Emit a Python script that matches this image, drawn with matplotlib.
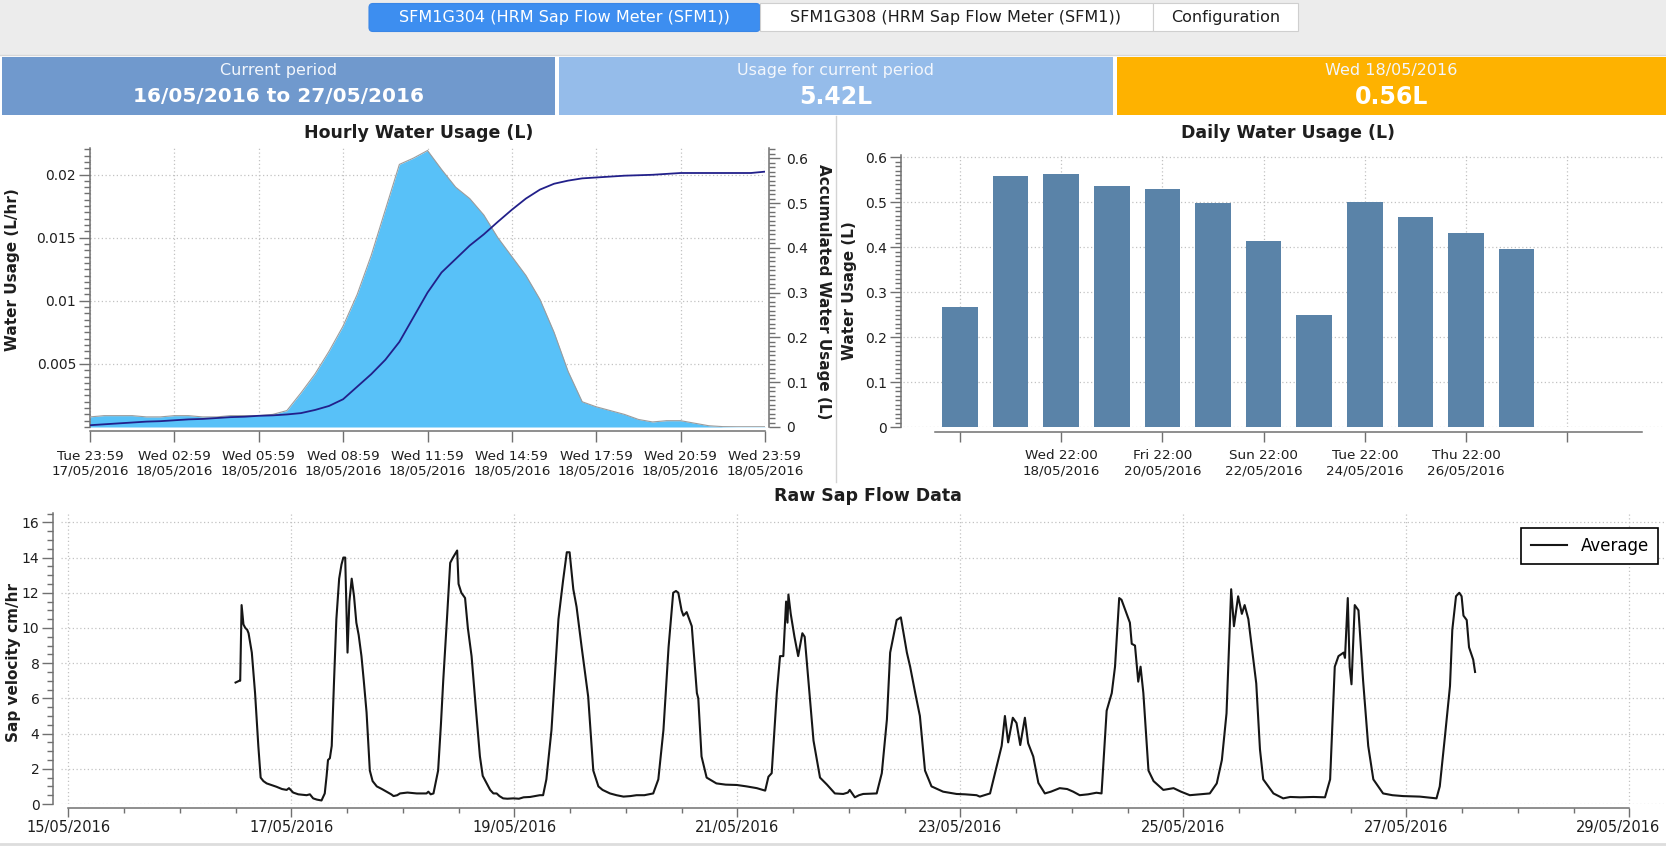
import matplotlib
matplotlib.use('Agg')
import matplotlib.pyplot as plt
import matplotlib.dates as mdates
import matplotlib.transforms as mtransforms
import pandas as pd
from datetime import datetime, timedelta
from matplotlib.patches import Rectangle, FancyBboxPatch
from matplotlib.ticker import MultipleLocator, FixedLocator, FormatStrFormatter

W, H = 1666, 847

# ---- data ----
tab_labels = ['SFM1G304 (HRM Sap Flow Meter (SFM1))',
              'SFM1G308 (HRM Sap Flow Meter (SFM1))',
              'Configuration']
header_titles = ['Current period', 'Usage for current period', 'Wed 18/05/2016']
header_values = ['16/05/2016 to 27/05/2016', '5.42L', '0.56L']

# hourly chart, one value every 30 min from Tue 17/05 23:59
hourly_start = '2016-05-17 23:59'
hourly_usage = [0.0008, 0.0009, 0.0009, 0.0009, 0.0008, 0.0008, 0.0009, 0.0009,
                0.0008, 0.0008, 0.0009, 0.0009, 0.0009, 0.0010, 0.0013, 0.0027,
                0.0042, 0.0060, 0.0080, 0.0105, 0.0136, 0.0172, 0.0208, 0.0213,
                0.0219, 0.0204, 0.0190, 0.0181, 0.0168, 0.0150, 0.0135, 0.0120,
                0.0101, 0.0075, 0.0044, 0.0020, 0.0016, 0.0013, 0.0010, 0.0006,
                0.0004, 0.0005, 0.0005, 0.0003, 0.0001, 0.00003, 0.00002, 0.00002,
                0.00002]
hourly_accum = [0.004, 0.006, 0.008, 0.010, 0.012, 0.013, 0.015, 0.017,
                0.018, 0.020, 0.022, 0.023, 0.025, 0.026, 0.028, 0.031,
                0.038, 0.047, 0.062, 0.090, 0.118, 0.150, 0.190, 0.245,
                0.300, 0.345, 0.375, 0.405, 0.430, 0.458, 0.485, 0.510,
                0.530, 0.543, 0.550, 0.555, 0.557, 0.559, 0.561, 0.562,
                0.563, 0.565, 0.567, 0.567, 0.567, 0.567, 0.567, 0.567,
                0.570]

# daily chart
daily_start = '2016-05-16 22:00'
daily_usage = [0.267, 0.559, 0.562, 0.536, 0.530, 0.499, 0.413, 0.250,
               0.501, 0.467, 0.431, 0.397]
daily_tick_labels = ['', 'Wed 22:00\n18/05/2016', 'Fri 22:00\n20/05/2016',
                     'Sun 22:00\n22/05/2016', 'Tue 22:00\n24/05/2016',
                     'Thu 22:00\n26/05/2016', '']

# raw sap flow, hours since 15/05/2016 00:00
sap_hours = [36.0, 36.8, 37.0, 37.3, 37.7, 38.1, 38.5, 38.8, 39.5, 40.2, 40.9, 41.4,
             42.0, 42.7, 43.5, 44.8, 46.0, 47.0, 47.5, 48.4, 49.5, 51.3, 52.0, 52.7,
             53.5, 54.5, 55.2, 55.6, 55.9, 56.3, 56.7, 57.2, 57.7, 58.3, 58.8, 59.2,
             59.6, 60.1, 60.5, 61.0, 61.5, 62.0, 62.5, 63.1, 63.6, 64.2, 64.9, 65.5,
             66.4, 67.5, 68.5, 69.5, 70.0, 70.8, 71.4, 73.0, 75.0, 77.1, 77.5, 78.0,
             78.6, 79.6, 80.2, 80.7, 81.5, 82.2, 82.8, 83.7, 84.0, 84.6, 85.4, 86.0,
             86.8, 87.7, 88.6, 89.2, 90.0, 90.8, 91.5, 92.2, 92.8, 93.6, 94.5, 95.8,
             97.0, 98.0, 99.4, 100.5, 101.5, 102.2, 102.9, 104.0, 105.5, 106.5, 107.3, 107.9,
             108.7, 109.4, 110.5, 111.9, 113.0, 114.1, 115.0, 116.6, 118.0, 119.5, 121.0, 122.3,
             124.0, 125.9, 127.0, 128.1, 129.2, 130.2, 130.8, 131.3, 132.0, 132.4, 133.1, 134.2,
             135.3, 135.6, 136.3, 137.4, 139.5, 141.5, 143.9, 146.0, 148.2, 150.0, 150.7, 151.4,
             152.5, 153.2, 153.9, 154.5, 154.8, 155.0, 155.5, 156.3, 157.1, 158.0, 158.5, 159.3,
             160.4, 161.8, 163.3, 165.0, 166.8, 167.8, 168.2, 169.3, 170.2, 171.1, 174.0, 175.1,
             176.2, 176.9, 178.3, 179.2, 180.5, 181.2, 182.3, 183.3, 184.4, 185.8, 188.3, 191.2,
             193.0, 195.5, 196.2, 198.4, 199.8, 200.9, 201.6, 202.3, 203.3, 204.1, 204.9, 205.9,
             206.6, 207.7, 208.8, 210.2, 211.5, 213.4, 215.0, 216.3, 217.7, 219.5, 221.3, 222.4,
             223.5, 224.6, 225.3, 226.2, 226.7, 227.8, 228.5, 228.9, 229.6, 230.3, 230.8, 231.4,
             232.5, 233.6, 235.7, 237.9, 239.5, 241.4, 243.5, 245.7, 247.2, 248.3, 249.3, 250.3,
             250.9, 251.8, 252.6, 253.2, 254.0, 255.7, 256.5, 257.2, 259.4, 261.5, 263.0, 265.1,
             268.0, 270.5, 271.6, 272.6, 273.4, 274.5, 274.8, 275.4, 275.8, 276.2, 276.9, 277.7,
             278.7, 279.8, 280.9, 283.0, 285.0, 287.3, 290.9, 294.5, 295.2, 296.3, 297.4, 297.9,
             298.7, 299.4, 299.9, 300.3, 301.0, 301.5, 302.4, 302.8]
sap_values = [6.9, 7.0, 7.0, 11.3, 10.2, 10.0, 9.9, 9.7, 8.6, 6.3, 3.3, 1.5,
              1.3, 1.17, 1.1, 0.98, 0.85, 0.8, 0.9, 0.65, 0.55, 0.5, 0.55, 0.32,
              0.25, 0.2, 0.6, 1.6, 2.5, 2.6, 3.3, 7.0, 10.5, 12.8, 13.6, 14.0,
              14.0, 8.6, 11.5, 12.8, 11.8, 10.3, 9.6, 8.4, 7.0, 5.2, 1.9, 1.3,
              1.0, 0.85, 0.7, 0.55, 0.45, 0.5, 0.6, 0.65, 0.6, 0.6, 0.7, 0.55,
              0.6, 1.9, 4.5, 7.0, 10.5, 13.7, 14.0, 14.4, 12.5, 12.0, 11.7, 10.0,
              8.4, 5.5, 2.7, 1.6, 1.2, 0.8, 0.6, 0.6, 0.45, 0.32, 0.3, 0.32,
              0.3, 0.38, 0.4, 0.45, 0.5, 0.5, 1.4, 4.2, 10.5, 12.7, 14.3, 14.3,
              12.2, 11.2, 8.9, 6.1, 1.9, 1.0, 0.8, 0.6, 0.5, 0.42, 0.45, 0.5,
              0.5, 0.6, 1.4, 4.2, 8.9, 12.0, 12.1, 12.0, 11.0, 10.7, 10.9, 10.1,
              6.3, 6.0, 2.7, 1.5, 1.17, 1.1, 1.08, 1.0, 0.9, 0.76, 1.55, 1.75,
              6.3, 8.4, 8.4, 11.5, 10.3, 11.9, 10.8, 9.5, 8.4, 9.7, 9.5, 7.0,
              3.6, 1.5, 1.1, 0.6, 0.57, 0.65, 0.8, 0.38, 0.5, 0.57, 0.6, 1.75,
              4.8, 8.6, 10.45, 10.6, 8.6, 7.8, 6.3, 5.0, 1.9, 1.0, 0.7, 0.57,
              0.55, 0.5, 0.42, 0.6, 2.1, 3.3, 5.0, 3.5, 4.9, 4.6, 3.35, 4.9,
              3.45, 2.7, 1.2, 0.6, 0.7, 0.9, 0.85, 0.7, 0.5, 0.55, 0.64, 0.6,
              5.3, 6.3, 7.8, 11.7, 11.6, 10.8, 10.3, 9.1, 9.0, 6.95, 7.8, 6.3,
              1.9, 1.3, 0.8, 0.9, 0.7, 0.5, 0.55, 0.6, 1.17, 2.5, 5.15, 12.2,
              10.1, 11.8, 10.8, 11.3, 10.5, 6.85, 3.1, 1.4, 0.6, 0.32, 0.4, 0.38,
              0.4, 0.38, 1.4, 7.8, 8.4, 8.6, 8.3, 11.7, 7.8, 6.8, 11.3, 11.0,
              7.0, 3.3, 1.4, 0.6, 0.5, 0.45, 0.42, 0.32, 1.0, 3.8, 6.7, 9.9,
              11.8, 12.0, 11.8, 10.7, 10.45, 8.9, 8.2, 7.5]


def rect(x0, y0, x1, y1):
    # pixel box (top-left origin) -> figure fraction
    return [x0 / W, 1 - y1 / H, (x1 - x0) / W, (y1 - y0) / H]


AX_COL = '#707070'
GRID = dict(color='#c2c2c2', linestyle=(0, (1, 2)), linewidth=0.9)
TXT = '#1e1e1e'

fig = plt.figure(figsize=(W / 100, H / 100), dpi=100)

# ---- background canvas in pixel coordinates ----
bg = fig.add_axes([0, 0, 1, 1])
bg.set_zorder(-1)
bg.set_xlim(0, W)
bg.set_ylim(H, 0)
bg.axis('off')

bg.add_patch(Rectangle((0, 0), W, 55, color='#ececec', lw=0))
bg.plot([0, W], [55, 55], color='#d8d8d8', lw=1)
bg.add_patch(FancyBboxPatch((369, 3.5), 391, 28, boxstyle='round,pad=0,rounding_size=4',
                            fc='#3d8ef0', ec='#3a86e6', lw=0.8))
bg.add_patch(Rectangle((760, 3.5), 393, 28, fc='white', ec='#cfcfcf', lw=0.8))
bg.add_patch(Rectangle((1153, 3.5), 145, 28, fc='white', ec='#cfcfcf', lw=0.8))
tab_x = [564, 956, 1226]
tab_col = ['white', TXT, TXT]
for x, s, c in zip(tab_x, tab_labels, tab_col):
    bg.text(x, 17.5, s, ha='center', va='center', fontsize=11.5, color=c)

box_x = [(2, 555), (559, 1113), (1117, 1666)]
box_col = ['#7099cd', '#95bcea', '#feb200']
for (x0, x1), c, t, v in zip(box_x, box_col, header_titles, header_values):
    bg.add_patch(Rectangle((x0, 57), x1 - x0, 58, color=c, lw=0))
    xc = (x0 + x1) / 2
    bg.text(xc, 70, t, ha='center', va='center', fontsize=11.5, color='#f2f6fc')
    vs = 14.5 if len(v) > 8 else 17
    bg.text(xc, 97, v, ha='center', va='center', fontsize=vs, color='white',
            fontweight='bold')

bg.plot([836, 836], [116, 482], color='#d4d4d4', lw=1)
bg.plot([0, W], [844, 844], color='#dddddd', lw=2)

# titles and axis labels
bg.text(419, 133, 'Hourly Water Usage (L)', ha='center', va='center',
        fontsize=12.5, fontweight='bold', color=TXT)
bg.text(1288, 133, 'Daily Water Usage (L)', ha='center', va='center',
        fontsize=12.5, fontweight='bold', color=TXT)
bg.text(868, 496, 'Raw Sap Flow Data', ha='center', va='center',
        fontsize=12.5, fontweight='bold', color=TXT)
bg.text(13, 270, 'Water Usage (L/hr)', rotation=90, ha='center', va='center',
        fontsize=11, fontweight='bold', color=TXT)
bg.text(824, 292, 'Accumulated Water Usage (L)', rotation=-90, ha='center',
        va='center', fontsize=11, fontweight='bold', color=TXT)
bg.text(850, 291, 'Water Usage (L)', rotation=90, ha='center', va='center',
        fontsize=11, fontweight='bold', color=TXT)
bg.text(13.5, 663, 'Sap velocity cm/hr', rotation=90, ha='center', va='center',
        fontsize=11, fontweight='bold', color=TXT)


def style_axis(ax):
    for s in ax.spines.values():
        s.set_color(AX_COL)
        s.set_linewidth(1.1)
    ax.tick_params(which='both', direction='out', color=AX_COL, width=1.0,
                   labelcolor=TXT)
    ax.tick_params(axis='y', which='major', length=8, labelsize=10, pad=2)
    ax.tick_params(axis='y', which='minor', length=4.5)


# ---- hourly water usage ----
t_h = pd.date_range(hourly_start, periods=len(hourly_usage), freq='30min').to_pydatetime()
ax1 = fig.add_axes(rect(90, 148, 765, 427))
style_axis(ax1)
ax1.fill_between(t_h, hourly_usage, 0, color='#58c1f8', lw=0, zorder=2)
ax1.plot(t_h, hourly_usage, color='#9c9c9c', lw=0.8, zorder=3)
ax1.set_xlim(t_h[0], t_h[-1])
ax1.set_ylim(0, 0.0221)
ax1.yaxis.set_major_locator(FixedLocator([0.005, 0.01, 0.015, 0.02]))
ax1.yaxis.set_major_formatter(FormatStrFormatter('%g'))
ax1.yaxis.set_minor_locator(MultipleLocator(0.0005))
h_ticks = pd.date_range(hourly_start, periods=9, freq='3h').to_pydatetime()
ax1.set_xticks(h_ticks)
ax1.set_xticklabels([t.strftime('%a %H:%M\n%d/%m/%Y') for t in h_ticks])
ax1.tick_params(axis='x', length=8, labelsize=9.7, pad=5)
ax1.set_axisbelow(True)
ax1.grid(True, which='major', **GRID)
ax1.spines['top'].set_visible(False)
ax1.spines['right'].set_visible(False)
ax1.spines['bottom'].set_position(('outward', 3.2))

ax2 = ax1.twinx()
style_axis(ax2)
ax2.plot(t_h, hourly_accum, color='#22208a', lw=1.3)
ax2.set_ylim(0, 0.6228)
ax2.yaxis.set_major_locator(MultipleLocator(0.1))
ax2.yaxis.set_minor_locator(MultipleLocator(0.01))
ax2.yaxis.set_major_formatter(FormatStrFormatter('%g'))
ax2.tick_params(axis='y', pad=4)
for s in ['top', 'left', 'bottom']:
    ax2.spines[s].set_visible(False)
ax2.spines['right'].set_position(('outward', 3))

# ---- daily water usage ----
day0 = datetime(2016, 5, 16, 22)
days = pd.date_range(daily_start, periods=len(daily_usage), freq='D').to_pydatetime()
ax3 = fig.add_axes(rect(903, 155, 1664, 427.3))
style_axis(ax3)
ax3.bar(days, daily_usage, width=0.7, color='#5a83a8', zorder=2)
ax3.set_xlim(day0 - timedelta(days=1.1265), day0 + timedelta(days=13.913))
ax3.set_ylim(0, 0.605)
ax3.yaxis.set_major_locator(MultipleLocator(0.1))
ax3.yaxis.set_minor_locator(MultipleLocator(0.01))
ax3.yaxis.set_major_formatter(FormatStrFormatter('%g'))
d_ticks = pd.date_range(daily_start, periods=len(daily_tick_labels), freq='2D').to_pydatetime()
ax3.set_xticks(d_ticks)
ax3.set_xticklabels(daily_tick_labels)
ax3.tick_params(axis='x', length=7.5, labelsize=9.7, pad=5)
ax3.set_axisbelow(True)
ax3.grid(True, which='major', **GRID)
ax3.spines['top'].set_visible(False)
ax3.spines['right'].set_visible(False)
ax3.spines['left'].set_position(('outward', 1.5))
ax3.spines['bottom'].set_position(('outward', 3.2))
ax3.spines['bottom'].set_bounds(mdates.date2num(day0 - timedelta(days=0.494)),
                                mdates.date2num(day0 + timedelta(days=13.478)))

# ---- raw sap flow ----
base = datetime(2016, 5, 15)
sap_t = [base + timedelta(hours=h) for h in sap_hours]
ax4 = fig.add_axes(rect(61, 513, 1666, 804))
style_axis(ax4)
ax4.plot(sap_t, sap_values, color='#161616', lw=1.5, label='Average')
ax4.set_xlim(base - timedelta(days=0.0655), base + timedelta(days=14.329))
ax4.set_ylim(0, 16.53)
ax4.yaxis.set_major_locator(MultipleLocator(2))
ax4.yaxis.set_minor_locator(MultipleLocator(0.5))
s_major = pd.date_range('2016-05-15', '2016-05-29', freq='2D').to_pydatetime()
s_minor = pd.date_range('2016-05-15', '2016-05-29', freq='12h').to_pydatetime()
ax4.xaxis.set_major_locator(FixedLocator(mdates.date2num(s_major)))
ax4.xaxis.set_minor_locator(FixedLocator(mdates.date2num(s_minor)))
ax4.xaxis.set_major_formatter(mdates.DateFormatter('%d/%m/%Y'))
ax4.tick_params(axis='x', which='major', length=6.5, labelsize=10.5, pad=2)
ax4.tick_params(axis='x', which='minor', length=3.6)
ax4.set_axisbelow(True)
ax4.grid(True, which='major', **GRID)
ax4.spines['top'].set_visible(False)
ax4.spines['right'].set_visible(False)
ax4.spines['left'].set_position(('outward', 5.5))
ax4.spines['bottom'].set_position(('outward', 3))
ax4.spines['bottom'].set_bounds(mdates.date2num(s_major[0]), mdates.date2num(s_major[-1]))
leg = ax4.legend(loc='upper right', bbox_to_anchor=(1658 / W, 1 - 528 / H),
                 bbox_transform=fig.transFigure, fancybox=False, edgecolor='black',
                 fontsize=12, borderaxespad=0, borderpad=0.55, handlelength=2.2,
                 framealpha=1)
leg.get_frame().set_linewidth(1.2)

# nudge the last date label so it stays inside the picture
last_lab = ax4.xaxis.get_major_ticks()[len(s_major) - 1].label1
last_lab.set_transform(last_lab.get_transform() +
                       mtransforms.ScaledTranslation(-8 / 72, 0, fig.dpi_scale_trans))

fig.savefig('out.png', dpi=100)
